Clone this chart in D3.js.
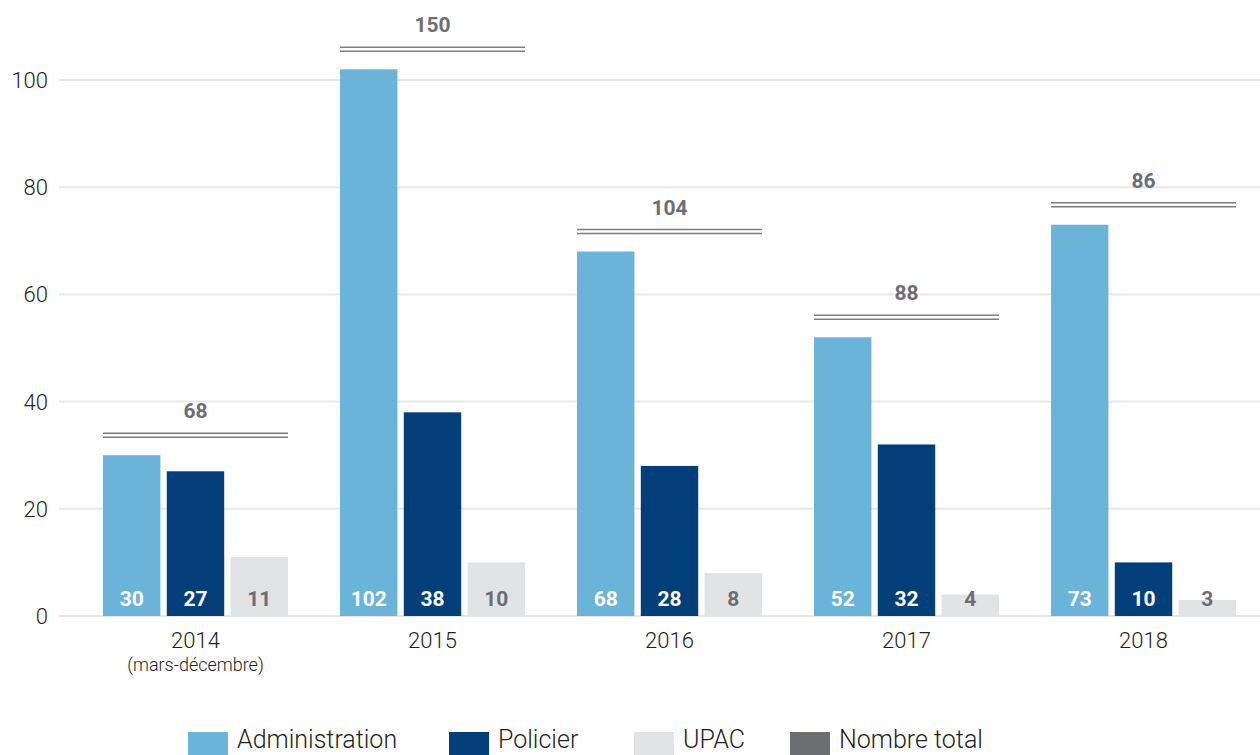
<!DOCTYPE html>
<html lang="fr">
<head>
  <meta charset="UTF-8" />
  <title>Dossiers par provenance</title>
  <script src="https://d3js.org/d3.v7.min.js"></script>
  <style>
    body {
      margin: 0;
      background: #fff;
      font-family: Roboto, "Liberation Sans", sans-serif;
    }
    svg { display: block; }
    .grid line { stroke: #e6e7e8; stroke-width: 2; }
    .tick-label { font-size: 22px; font-weight: 300; fill: #231f20; }
  </style>
</head>
<body>
  <script>
    // data
    var years = ["2014", "2015", "2016", "2017", "2018"];
    var yearNotes = ["(mars-décembre)", "", "", "", ""];
    var series = ["Administration", "Policier", "UPAC"];
    var administration = [30, 102, 68, 52, 73];
    var policier = [27, 38, 28, 32, 10];
    var upac = [11, 10, 8, 4, 3];
    var totals = [68, 150, 104, 88, 86];
    var yTicks = [0, 20, 40, 60, 80, 100];
    var legendLabels = ["Administration", "Policier", "UPAC", "Nombre total"];

    var colors = ["#6ab4da", "#023e7a", "#e2e3e5", "#6d6e71"];
    var labelColors = ["#ffffff", "#ffffff", "#6d6e71"];

    var W = 1260, H = 755;
    var plotLeft = 59, plotRight = 1260, plotBottom = 616;

    var svg = d3.select("body").append("svg")
      .attr("width", W)
      .attr("height", H);

    var y = d3.scaleLinear().domain([0, 100]).range([plotBottom, 80]);

    // groups start at 103, step 237, group width 185
    var x0 = d3.scaleBand()
      .domain(years)
      .range([103, 103 + 237 * years.length - 52])
      .paddingInner(52 / 237)
      .paddingOuter(0);

    var x1 = d3.scaleBand()
      .domain(series)
      .range([0, x0.bandwidth()])
      .paddingInner(0.1);

    // gridlines
    var grid = svg.append("g").attr("class", "grid");
    grid.selectAll("line")
      .data(yTicks)
      .enter().append("line")
      .attr("x1", plotLeft)
      .attr("x2", plotRight)
      .attr("y1", function (d) { return y(d); })
      .attr("y2", function (d) { return y(d); });

    svg.append("g").selectAll("text")
      .data(yTicks)
      .enter().append("text")
      .attr("class", "tick-label")
      .attr("x", 48)
      .attr("y", function (d) { return y(d); })
      .attr("dy", "0.36em")
      .attr("text-anchor", "end")
      .text(function (d) { return d; });

    var rows = years.map(function (yr, i) {
      return { year: yr, values: [administration[i], policier[i], upac[i]], total: totals[i], note: yearNotes[i] };
    });

    var groups = svg.selectAll(".group")
      .data(rows)
      .enter().append("g")
      .attr("class", "group")
      .attr("transform", function (d) { return "translate(" + x0(d.year) + ",0)"; });

    groups.selectAll("rect")
      .data(function (d) { return d.values; })
      .enter().append("rect")
      .attr("x", function (d, i) { return x1(series[i]); })
      .attr("y", function (d) { return y(d); })
      .attr("width", x1.bandwidth())
      .attr("height", function (d) { return plotBottom - y(d); })
      .attr("fill", function (d, i) { return colors[i]; });

    groups.selectAll(".val")
      .data(function (d) { return d.values; })
      .enter().append("text")
      .attr("class", "val")
      .attr("x", function (d, i) { return x1(series[i]) + x1.bandwidth() / 2; })
      .attr("y", plotBottom - 10)
      .attr("text-anchor", "middle")
      .style("font-size", "21px")
      .style("font-weight", "bold")
      .attr("fill", function (d, i) { return labelColors[i]; })
      .text(function (d) { return d; });

    // total marker: double line above the tallest bar
    groups.each(function (d) {
      var g = d3.select(this);
      var top = y(d3.max(d.values)) - 22;
      [0, 4].forEach(function (off) {
        g.append("line")
          .attr("x1", 0)
          .attr("x2", x0.bandwidth())
          .attr("y1", top + off)
          .attr("y2", top + off)
          .attr("stroke", "#7d7e80")
          .attr("stroke-width", 1.6);
      });
      g.append("text")
        .attr("x", x0.bandwidth() / 2)
        .attr("y", top - 15)
        .attr("text-anchor", "middle")
        .style("font-size", "21px")
        .style("font-weight", "bold")
        .attr("fill", "#6d6e71")
        .text(d.total);
    });

    // x labels
    groups.append("text")
      .attr("class", "tick-label")
      .attr("x", x0.bandwidth() / 2)
      .attr("y", 648)
      .attr("text-anchor", "middle")
      .text(function (d) { return d.year; });

    groups.append("text")
      .attr("x", x0.bandwidth() / 2)
      .attr("y", 671)
      .attr("text-anchor", "middle")
      .style("font-size", "18px")
      .style("font-weight", "300")
      .attr("fill", "#231f20")
      .text(function (d) { return d.note; });

    // legend (kept just inside the bottom edge)
    var legendX = [188, 449, 634, 790];
    var legend = svg.append("g").selectAll("g")
      .data(legendLabels)
      .enter().append("g")
      .attr("transform", function (d, i) { return "translate(" + legendX[i] + ",732)"; });

    legend.append("rect")
      .attr("width", 40)
      .attr("height", 23)
      .attr("fill", function (d, i) { return colors[i]; });

    legend.append("text")
      .attr("x", 49)
      .attr("y", 16)
      .style("font-size", "25px")
      .style("font-weight", "300")
      .attr("fill", "#231f20")
      .text(function (d) { return d; });
  </script>
</body>
</html>
